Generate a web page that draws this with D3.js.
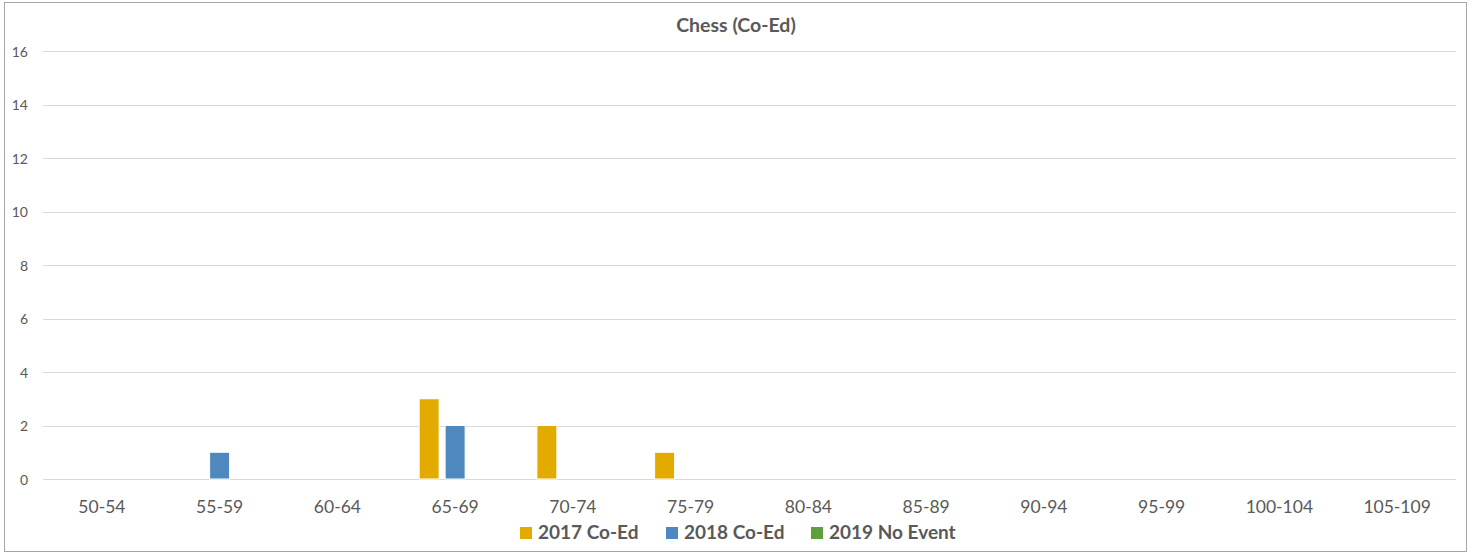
<!DOCTYPE html>
<html><head><meta charset="utf-8">
<script src="https://cdn.jsdelivr.net/npm/d3@7"></script>
<style>body{margin:0;background:#fff;}svg{display:block;font-family:Lato,"Open Sans",sans-serif;}</style>
</head><body>
<svg id="c" width="1472" height="554"></svg>
<script>
const categories = ["50-54","55-59","60-64","65-69","70-74","75-79","80-84","85-89","90-94","95-99","100-104","105-109"];
const seriesNames = ["2017 Co-Ed","2018 Co-Ed","2019 No Event"];
const values2017 = [0,0,0,3,2,1,0,0,0,0,0,0];
const values2018 = [0,1,0,2,0,0,0,0,0,0,0,0];
const values2019 = [0,0,0,0,0,0,0,0,0,0,0,0];
const colors = ["#E3AB00","#4F88BE","#5E9E3C"];
const yTicks = [0,2,4,6,8,10,12,14,16];
const title = "Chess (Co-Ed)";

const svg = d3.select("#c");
svg.append("rect").attr("x",4.5).attr("y",2.5).attr("width",1462).attr("height",549)
  .attr("fill","#fff").attr("stroke","#a6a6a6").attr("stroke-width",1);

const x = d3.scaleBand().domain(categories).range([43,1456]).paddingInner(0).paddingOuter(0);
const y = d3.scaleLinear().domain([0,16]).range([479,51]);
const x1 = d3.scaleBand().domain(seriesNames).range([0,78]);

const grid = svg.append("g");
yTicks.forEach(t=>{
  grid.append("line").attr("x1",43).attr("x2",1456).attr("y1",Math.round(y(t))+0.5).attr("y2",Math.round(y(t))+0.5)
    .attr("stroke","#d9d9d9").attr("stroke-width",1);
  svg.append("text").attr("x",28).attr("y",y(t)+5.5).attr("text-anchor","end")
    .attr("font-size",14).attr("fill","#595959").text(t);
});

svg.append("g").attr("transform","translate(0,479)")
  .call(d3.axisBottom(x).tickSize(0).tickPadding(21.5))
  .call(g=>{g.select(".domain").remove();g.selectAll("text").attr("font-size",17.5).attr("fill","#595959").attr("font-family","Lato,'Open Sans',sans-serif");});

const data = [values2017, values2018, values2019];
data.forEach((vals,si)=>{
  svg.append("g").selectAll("rect").data(vals.map((v,i)=>({v,c:categories[i]})).filter(d=>d.v>0))
    .join("rect")
    .attr("x",d=>x(d.c)+x.bandwidth()/2-39+x1(seriesNames[si])+3)
    .attr("width",x1.bandwidth()-6)
    .attr("y",d=>y(d.v))
    .attr("height",d=>y(0)-y(d.v))
    .attr("fill",colors[si])
    .attr("stroke","#fff").attr("stroke-width",1);
});

svg.append("text").attr("x",736).attr("y",32).attr("text-anchor","middle")
  .attr("font-size",19.5).attr("font-weight","bold").attr("fill","#595959").text(title);

const legX = [520,666,811];
seriesNames.forEach((s,i)=>{
  svg.append("rect").attr("x",legX[i]).attr("y",527).attr("width",12).attr("height",12).attr("fill",colors[i]);
  svg.append("text").attr("x",legX[i]+18).attr("y",539).attr("font-size",19).attr("font-weight","bold")
    .attr("fill","#595959").text(s);
});
</script>
</body></html>
